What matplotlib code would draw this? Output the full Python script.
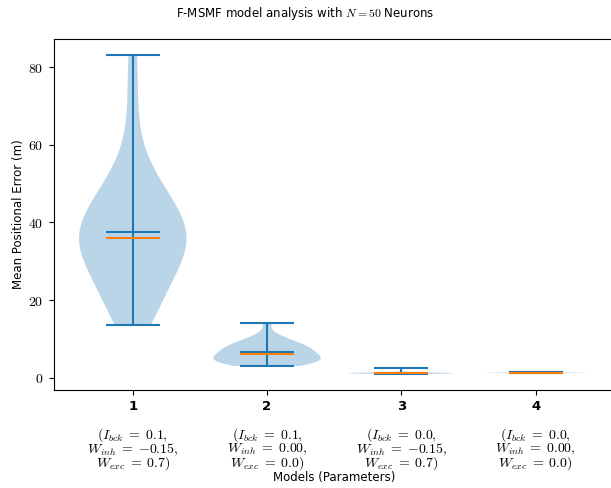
import matplotlib
matplotlib.use("Agg")
import matplotlib.pyplot as plt
from matplotlib.ticker import FuncFormatter

plt.rcParams["font.family"] = ["DejaVu Sans"]
plt.rcParams["mathtext.fontset"] = "cm"

# models on the x axis and their parameter sets
model_ids = [1, 2, 3, 4]
param_labels = [
    r"$(I_{bck}\;=\;0.1,$" "\n" r"$W_{inh}\;=\;{-}0.15,$" "\n" r"$W_{exc}\;=\;0.7)$",
    r"$(I_{bck}\;=\;0.1,$" "\n" r"$W_{inh}\;=\;0.00,$" "\n" r"$W_{exc}\;=\;0.0)$",
    r"$(I_{bck}\;=\;0.0,$" "\n" r"$W_{inh}\;=\;{-}0.15,$" "\n" r"$W_{exc}\;=\;0.7)$",
    r"$(I_{bck}\;=\;0.0,$" "\n" r"$W_{inh}\;=\;0.00,$" "\n" r"$W_{exc}\;=\;0.0)$",
]

# mean positional error per run (m)
err_model1 = [13.6, 16, 18, 20, 22, 24, 26, 28, 30, 31, 32, 33, 34, 35, 35.8,
              36.2, 37, 38, 39.7, 41, 42, 43, 44.5, 46, 48, 50, 53, 58, 70, 83.2]
err_model2 = [3.0, 3.2, 3.4, 3.6, 3.8, 4.0, 4.2, 4.4, 4.6, 4.8, 5.0, 5.2, 5.4, 5.7, 5.95,
              6.25, 6.5, 6.8, 7.1, 7.4, 7.6, 7.8, 8.1, 8.4, 8.7, 9.1, 9.6, 10.2, 11.0, 14.2]
err_model3 = [0.95, 1.0, 1.02, 1.04, 1.05, 1.06, 1.08, 1.09, 1.1, 1.1, 1.11, 1.12, 1.13, 1.14, 1.15,
              1.15, 1.16, 1.17, 1.18, 1.19, 1.2, 1.21, 1.22, 1.23, 1.24, 1.25, 1.27, 1.29, 1.32, 2.6]
err_model4 = [1.1, 1.12, 1.13, 1.14, 1.15, 1.16, 1.17, 1.18, 1.18, 1.19, 1.2, 1.2, 1.21, 1.21, 1.22,
              1.22, 1.23, 1.23, 1.24, 1.24, 1.25, 1.26, 1.27, 1.28, 1.29, 1.3, 1.31, 1.32, 1.33, 1.35]

fig = plt.figure(figsize=(6.11, 4.88), dpi=100)
ax = fig.add_axes([53.5 / 611, 1 - 390 / 488, 561.4 / 611, 351 / 488])

parts = ax.violinplot([err_model1, err_model2, err_model3, err_model4],
                      positions=model_ids, widths=0.8,
                      showmeans=True, showmedians=True)
parts["cmedians"].set_color("C1")

ax.set_xlim(0.41, 4.59)
ax.set_ylim(-3.2, 87.3)
ax.spines["right"].set_visible(False)

ax.set_xticks(model_ids)
ax.set_xticklabels([str(m) for m in model_ids], fontweight="bold", fontsize=9.5)
ax.yaxis.set_major_formatter(FuncFormatter(lambda v, _: f"${v:g}$"))
ax.tick_params(axis="y", labelsize=10)

for m, p in zip(model_ids, param_labels):
    ax.text(m, -0.103, p, transform=ax.get_xaxis_transform(),
            ha="center", va="top", fontsize=10, linespacing=0.78)

ax.set_xlabel("Models (Parameters)", fontsize=8.5)
ax.xaxis.set_label_coords(0.5, -0.232)
ax.set_ylabel("Mean Positional Error (m)", fontsize=8.5)
ax.yaxis.set_label_coords(-0.05, 0.5)

fig.text(0.5, 1 - 14 / 488, "F-MSMF model analysis with $N=50$ Neurons",
         ha="center", va="center", fontsize=8.5)

fig.savefig("out.png", dpi=100)
